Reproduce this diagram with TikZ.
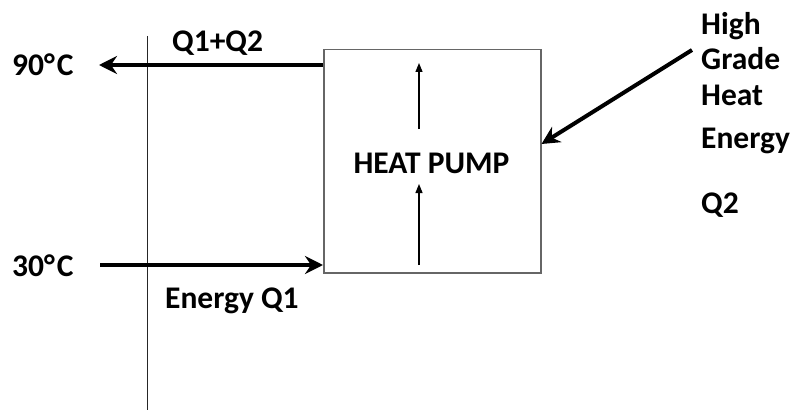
\documentclass[tikz,border=0pt]{standalone}
\usepackage{fontspec}
\setmainfont{Carlito}
\usetikzlibrary{arrows.meta}
\begin{document}
\begin{tikzpicture}[x=1pt,y=-1pt,
  lbl/.style={font=\fontsize{31.5}{35}\selectfont\bfseries, inner sep=0pt},
  thick arrow/.style={line width=4pt, -{Stealth[length=18pt,width=18pt,inset=6pt]}},
  thin arrow/.style={line width=1.2pt, -{Triangle[length=9pt,width=7pt]}}]
\useasboundingbox (0,0) rectangle (795,412);
% vertical line
\coordinate (vtop) at (147,36);
\coordinate (vbot) at (147,410);
\draw[line width=1pt, black!85] (vtop) -- (vbot);
% box
\node (box) [draw=black!60, line width=1.5pt, minimum width=217pt, minimum height=223pt, inner sep=0pt, anchor=north west] at (323,49) {};
\node (hp) [lbl, anchor=base] at (431.5,173) {HEAT PUMP};
% inner arrows
\coordinate (a1s) at (419,129); \coordinate (a1e) at (419,63);
\coordinate (a2s) at (419,265); \coordinate (a2e) at (419,184);
\draw[thin arrow] (a1s) -- (a1e);
\draw[thin arrow] (a2s) -- (a2e);
% left labels
\node (t90) [lbl, anchor=base west] at (12,76) {90°\kern2ptC};
\node (t30) [lbl, anchor=base west] at (12,276) {30°\kern2ptC};
\node (qq) [lbl, anchor=base west] at (172,52) {Q1+Q2};
\node (eq) [lbl, anchor=base west] at (165,308) {Energy Q1};
% horizontal arrows
\coordinate (outs) at (box.west |- 0,65);
\coordinate (oute) at (99,65);
\draw[thick arrow] (outs) -- (oute);
\coordinate (ins) at (100,265);
\coordinate (ine) at (box.west |- 0,265);
\draw[thick arrow] (ins) -- (ine);
% right labels
\node (hg) [lbl, anchor=base west] at (701,35) {High};
\node (gr) [lbl, anchor=base west] at (701,70) {Grade};
\node (he) [lbl, anchor=base west] at (701,105) {Heat};
\node (en) [lbl, anchor=base west] at (701,148) {Energy};
\node (q2) [lbl, anchor=base west] at (701,213) {Q2};
% diagonal arrow
\coordinate (ds) at (692,50);
\coordinate (de) at (box.east |- 0,144);
\draw[thick arrow] (ds) -- (de);
\end{tikzpicture}
\end{document}
